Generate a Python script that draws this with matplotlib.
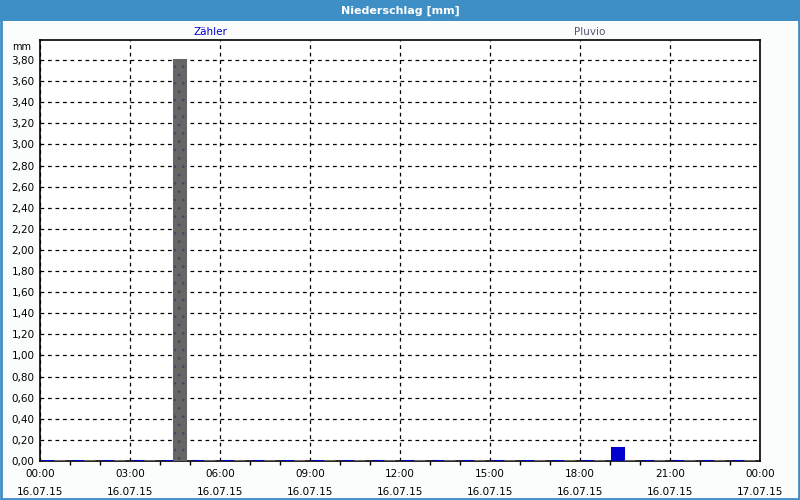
import matplotlib.pyplot as plt
from matplotlib.patches import Rectangle
from matplotlib.ticker import MultipleLocator, FuncFormatter
import numpy as np

# hourly precipitation, 16.07.15 00:00 - 17.07.15 00:00
hours = list(range(24))
zaehler = [0, 0, 0, 0, 0, 0, 0, 0, 0, 0, 0, 0,
           0, 0, 0, 0, 0, 0, 0, 0.12, 0, 0, 0, 0]
pluvio = [0, 0, 0, 0, 3.80, 0, 0, 0, 0, 0, 0, 0,
          0, 0, 0, 0, 0, 0, 0, 0, 0, 0, 0, 0]
tick_hours = [0, 3, 6, 9, 12, 15, 18, 21, 24]
tick_labels = ['00:00\n16.07.15', '03:00\n16.07.15', '06:00\n16.07.15',
               '09:00\n16.07.15', '12:00\n16.07.15', '15:00\n16.07.15',
               '18:00\n16.07.15', '21:00\n16.07.15', '00:00\n17.07.15']

plt.rcParams['font.family'] = ['DejaVu Sans']
plt.rcParams['hatch.linewidth'] = 0.6

fig = plt.figure(figsize=(8, 5), dpi=100)
fig.patch.set_facecolor('#fbfdfd')

# title bar and window border
fig.patches.append(Rectangle((0, 1 - 21 / 500), 1, 21 / 500, transform=fig.transFigure,
                             facecolor='#3d8fc6', edgecolor='none', zorder=0))
fig.patches.append(Rectangle((0.001, 0.002), 0.998, 0.99, transform=fig.transFigure,
                             facecolor='none', edgecolor='#3d8fc6', linewidth=2, zorder=0))
fig.text(0.5, 1 - 11 / 500, 'Niederschlag [mm]', ha='center', va='center',
         color='white', fontsize=8, fontweight='bold')

ax = fig.add_axes([40 / 800, 39 / 500, 720 / 800, 421 / 500])
ax.set_facecolor('white')

x = np.array(hours)
ax.bar(x + 0.07, zaehler, width=0.35, align='edge', color='#0000cc',
       edgecolor='#0000cc', linewidth=2.2, zorder=4)
ax.bar(x + 0.47, pluvio, width=0.35, align='edge', color='#666666',
       edgecolor='#666666', linewidth=2.2, zorder=4)
# dotted texture of the large bar
ax.bar(x + 0.47, pluvio, width=0.35, align='edge', color='none',
       edgecolor='#444466', linewidth=0, hatch='..', zorder=4)

ax.set_xlim(0, 24)
ax.set_ylim(0, 3.99)
ax.yaxis.set_major_locator(MultipleLocator(0.2))
ax.yaxis.set_major_formatter(FuncFormatter(lambda v, p: f'{v:.2f}'.replace('.', ',')))
ax.set_xticks(tick_hours)
ax.set_xticklabels(tick_labels, fontsize=7.5, linespacing=1.9)
ax.set_xticks(hours, minor=True)
ax.tick_params(axis='y', labelsize=7.5, length=0, pad=4)
ax.tick_params(axis='x', which='major', length=0, pad=6)
ax.tick_params(axis='x', which='minor', length=3, width=1)

ax.grid(True, which='major', color='black', linestyle=(0, (3, 3)), linewidth=0.9, zorder=1)
for s in ax.spines.values():
    s.set_linewidth(1.2)
    s.set_color('black')

ax.text(-0.012, 1 - 7 / 421, 'mm', transform=ax.transAxes, ha='right', va='center', fontsize=7)
fig.text(210 / 800, 1 - 32 / 500, 'Zähler', ha='center', va='center', fontsize=7.5, color='#0000cc')
fig.text(590 / 800, 1 - 32 / 500, 'Pluvio', ha='center', va='center', fontsize=7.5, color='#555577')

fig.savefig('out.png', dpi=100, facecolor=fig.get_facecolor())
